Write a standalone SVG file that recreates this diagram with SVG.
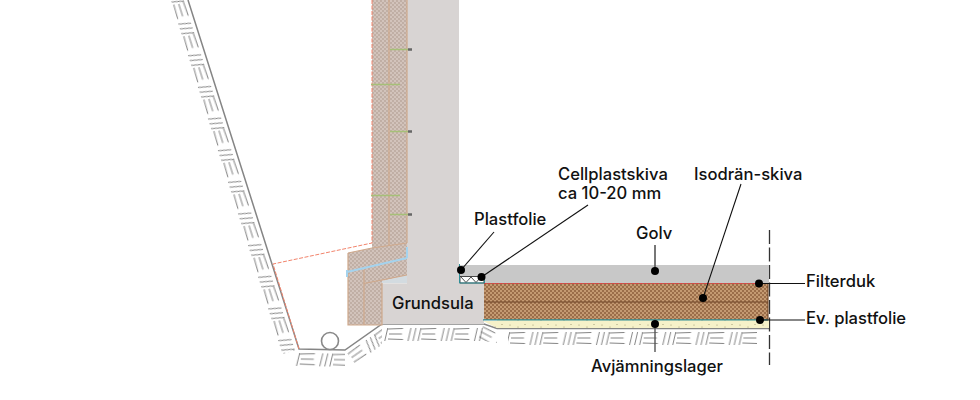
<svg xmlns="http://www.w3.org/2000/svg" width="980" height="400" viewBox="0 0 980 400">
<style>
text{font-family:"Inter","Liberation Sans",sans-serif;font-size:16.600px;font-weight:500;fill:#111}
.lead{stroke:#111;stroke-width:1.1;fill:none}
.dot{fill:#000}
.gl{stroke:#858585;stroke-width:1.5;fill:none}
.hl{stroke:#666;stroke-width:.8;fill:none}
.seam{stroke:#cfa98c;stroke-width:1.2;fill:none}
.red{stroke:#f2846c;stroke-width:1;stroke-dasharray:4 1.500;fill:none}
.anc{stroke:#a6c078;stroke-width:1.600}
.tip{stroke:#666;stroke-width:2.600}
</style>
<defs>
<g id="herr"><path class="hl" d="M0 5L15 4.500M1 10L14 10M0 15L15 15.500M20 17L23 4M25 17L28 4M30 17L33 4"/></g>
<pattern id="h1" width="33.200" height="20" patternUnits="userSpaceOnUse" patternTransform="translate(188,0) rotate(72.4)"><use href="#herr"/></pattern>
<pattern id="h2" width="33.200" height="20" patternUnits="userSpaceOnUse" patternTransform="translate(300,349) rotate(1)"><use href="#herr"/></pattern>
<pattern id="h3" width="33.200" height="20" patternUnits="userSpaceOnUse" patternTransform="translate(345,350) rotate(-35)"><use href="#herr"/></pattern>
<pattern id="h4" width="33.200" height="20" patternUnits="userSpaceOnUse" patternTransform="translate(388,324)"><use href="#herr"/></pattern>
<pattern id="h5" width="33.200" height="20" patternUnits="userSpaceOnUse" patternTransform="translate(484,322) rotate(28)"><use href="#herr"/></pattern>
<pattern id="h6" width="33.200" height="20" patternUnits="userSpaceOnUse" patternTransform="translate(510,328)"><use href="#herr"/></pattern>
<pattern id="brick" width="4" height="4" patternUnits="userSpaceOnUse"><rect width="4" height="4" fill="#d2c3bb"/><circle cx="1" cy="1" r=".9" fill="#b8a59a"/><circle cx="3" cy="3" r=".9" fill="#b8a59a"/></pattern>
<pattern id="iso" width="4" height="4" patternUnits="userSpaceOnUse"><rect width="4" height="4" fill="#c49a72"/><circle cx="1" cy="1" r="1" fill="#8d5f3c"/><circle cx="3" cy="3" r="1" fill="#8d5f3c"/></pattern>
<pattern id="sand" width="23" height="7" patternUnits="userSpaceOnUse"><rect width="23" height="7" fill="#f6f1c9"/><circle cx="4" cy="3" r=".5" fill="#8b8560"/><circle cx="12" cy="5" r=".5" fill="#8b8560"/><circle cx="19" cy="2.500" r=".5" fill="#8b8560"/></pattern>
</defs>

<g id="ground">
<polygon fill="url(#h1)" points="188,0 299,349 280,355 169,-6"/>
<polygon fill="url(#h2)" points="299,349 345,350 345,369 293,368"/>
<polygon fill="url(#h3)" points="345,350 382,324 382,345 358,368"/>
<rect fill="url(#h4)" x="384" y="324" width="99" height="20"/>
<polygon fill="url(#h5)" points="484,323 497,330 497,343 478,340"/>
<rect fill="url(#h6)" x="508" y="328" width="249" height="20"/>
<path class="gl" d="M188 0L299 349L345 350L382 324H484L497 328.500H769"/>
</g>

<g id="pipe"><circle cx="330" cy="341" r="8.500" fill="#fff" stroke="#888" stroke-width="1.600"/></g>

<g id="foundation">
<rect x="407" y="0" width="52" height="283" fill="#d8d4d3"/>
<rect x="382" y="283" width="102" height="41" fill="#d8d4d3"/>
<path d="M382 283H407M459 283H484" stroke="#eeeeee" stroke-width="1"/>
<text x="392" y="309">Grundsula</text>
</g>

<g id="wall-insulation">
<polygon fill="#d3dbe0" points="382,281 407,275 407,283 382,283"/>
<rect x="372" y="0" width="35" height="248" fill="url(#brick)"/>
<polygon fill="url(#brick)" points="348,253 372,248 407,243 407,275 382,281 382,325 348,325"/>
<path class="seam" d="M389 0V245M407 0V243M372 248L407 243M348 253L372 248M348 253V325H382V283M364 270V325M364 283.500L407 275"/>
<path class="red" d="M372 0V243L273 264L299 349"/>
<path stroke="#a4d3ee" stroke-width="2" fill="none" d="M347 272L407 258M347 270V277M407 247V258"/>
<path class="anc" d="M390 49.500H408M371 84.500H400M390 131.500H408M371 195.500H400M390 214.500H408"/>
<path class="tip" d="M408 49.500H412M408 131.500H412M408 214.500H412"/>
</g>

<g id="floor">
<path stroke="#333" stroke-width="1.300" stroke-dasharray="14 3.500" d="M769.500 230V365"/>
<rect x="459" y="265" width="310" height="18" fill="#c8c8c8"/>
<rect x="484" y="283" width="284" height="37" fill="url(#iso)"/>
<rect x="497" y="320" width="272" height="8" fill="url(#sand)"/>
<polygon fill="url(#sand)" points="483,321 497,321 497,328"/>
<path stroke="#6f4527" stroke-width="1.100" d="M484 302H768M768 283V320"/>
<path stroke="#d84848" stroke-width="1.100" stroke-dasharray="3 1" d="M484 283.500H768"/>
<path stroke="#2f8e96" stroke-width="1.200" fill="none" d="M483 319.800H768"/>
</g>

<g id="cellplast">
<rect x="460" y="276.500" width="24" height="6.500" fill="#fff" stroke="#222" stroke-width=".8"/>
<path d="M461 277L466 282.500L471 277L476 282.500L481 277" fill="none" stroke="#222" stroke-width=".8"/>
<path d="M459.500 264V283H484.500V275" fill="none" stroke="#2f8e96" stroke-width="1"/>
</g>

<g id="connectors">
<path class="lead" d="M461 270L494 232"/>
<path class="lead" d="M481.500 277L588 205"/>
<path d="M655 271V245" stroke="#555" stroke-width="1.600" fill="none"/>
<path class="lead" d="M703 298L741 184"/>
<path class="lead" d="M759 283.500H805"/>
<path class="lead" d="M760 320H805"/>
<path d="M655 324V352" stroke="#555" stroke-width="1.400" fill="none"/>
<circle class="dot" cx="461" cy="270" r="4"/>
<circle class="dot" cx="481.500" cy="277" r="4"/>
<circle class="dot" cx="655" cy="271" r="4"/>
<circle class="dot" cx="703" cy="298" r="4"/>
<circle class="dot" cx="759" cy="283.500" r="4"/>
<circle class="dot" cx="760" cy="320" r="4"/>
<circle class="dot" cx="655" cy="324" r="4"/>
</g>

<g id="labels">
<text x="558" y="180">Cellplastskiva</text>
<text x="558" y="199">ca 10-20 mm</text>
<text x="474" y="225">Plastfolie</text>
<text x="694" y="180">Isodrän-skiva</text>
<text x="636" y="239">Golv</text>
<text x="806" y="287">Filterduk</text>
<text x="806" y="324">Ev. plastfolie</text>
<text x="591" y="372">Avjämningslager</text>
</g>
</svg>
